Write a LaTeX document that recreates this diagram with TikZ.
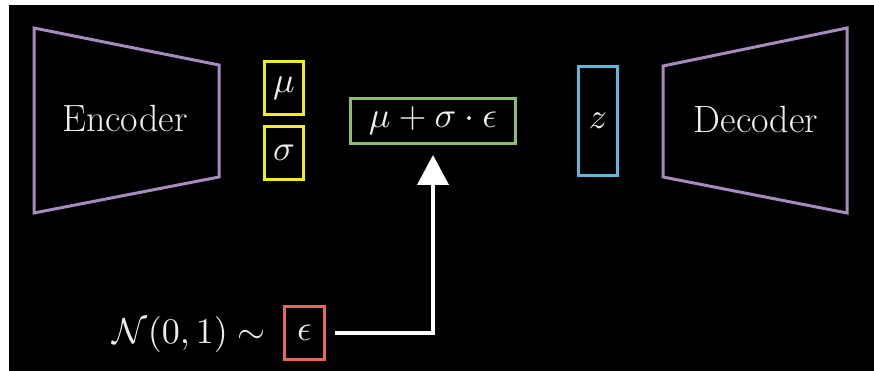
\documentclass[tikz,border=0pt]{standalone}
\usepackage{graphicx}
\usetikzlibrary{arrows.meta}
\definecolor{vpurple}{HTML}{A58BBF}
\definecolor{vyellow}{HTML}{F2EC1E}
\definecolor{vgreen}{HTML}{8DBE6E}
\definecolor{vblue}{HTML}{5EB8D9}
\definecolor{vred}{HTML}{E8675A}
\definecolor{vtext}{HTML}{EDEDED}
\newcommand\bigmath[1]{\scalebox{3.6}{\fontsize{10}{12}\selectfont$#1$}}
\tikzset{
  box/.style={draw=#1, line width=3pt, inner sep=0pt, text=vtext},
  coder/.style={draw=vpurple, line width=3pt, line join=miter},
  lbl/.style={text=vtext, inner sep=0pt},
  flow/.style={draw=white, line width=4pt, -{Triangle[length=30pt,width=31pt]}}
}
\begin{document}
\begin{tikzpicture}[x=1pt, y=-1pt, font=\fontsize{38}{42}\selectfont]
\useasboundingbox (0,0) rectangle (874,371);
\fill[white] (0,0) rectangle (874,371);
\fill[black] (9,5) rectangle (874,371);
% encoder / decoder shapes
\draw[coder] (34,28) -- (219,65) -- (219,177) -- (34,213) -- cycle;
\draw[coder] (847,28) -- (663,66) -- (663,177) -- (847,213) -- cycle;
\node[lbl, anchor=base] (enc) at (125,132) {Encoder};
\node[lbl, anchor=base] (dec) at (756,133) {Decoder};
% boxes
\node[box=vyellow, minimum width=39pt, minimum height=53pt] (mu) at (284,88) {\bigmath{\mu}};
\node[box=vyellow, minimum width=39pt, minimum height=53pt] (sigma) at (284,153) {\bigmath{\sigma}};
\node[box=vgreen, minimum width=165pt, minimum height=45pt] (mix) at (433,121) {\bigmath{\mu+\sigma\cdot\epsilon}};
\node[box=vblue, minimum width=39pt, minimum height=109pt] (z) at (598,121) {\bigmath{z}};
\node[box=vred, minimum width=40pt, minimum height=53pt] (eps) at (304.5,333) {\bigmath{\epsilon}};
\node[lbl, anchor=base east] (dist) at (266,343) {\bigmath{\mathcal{N}(0,1)\sim}};
% arrow
\draw[flow, shorten <=9pt, shorten >=10pt] (eps.east) -| (mix.south);
\end{tikzpicture}
\end{document}
